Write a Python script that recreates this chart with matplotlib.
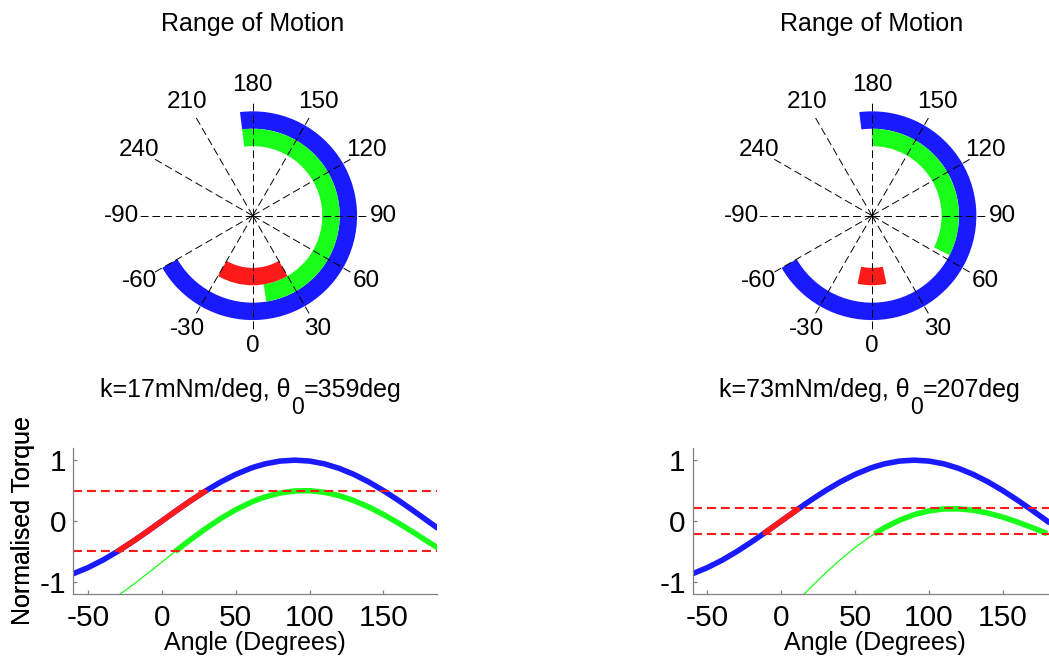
import numpy as np
import matplotlib
matplotlib.use("Agg")
import matplotlib.pyplot as plt

plt.rcParams["font.family"] = ["Liberation Sans", "DejaVu Sans"]
plt.rcParams["axes.unicode_minus"] = False

# Joint angle samples (degrees)
angles = [-60, -50, -40, -30, -20, -12, -10, 0, 9, 10, 12, 20, 30, 40, 50, 60, 63,
          70, 80, 90, 100, 110, 120, 130, 140, 150, 160, 170, 180, 187]

# Normalised gravity torque over the joint angle
gravity_torque = [-0.866, -0.766, -0.643, -0.500, -0.342, -0.208, -0.174, 0.000,
                  0.156, 0.174, 0.208, 0.342, 0.500, 0.643, 0.766, 0.866, 0.891,
                  0.940, 0.985, 1.000, 0.985, 0.940, 0.866, 0.766, 0.643, 0.500,
                  0.342, 0.174, 0.000, -0.122]

# Net torque with the spring, k=17mNm/deg, theta0=359deg
net_torque_1 = [-1.654, -1.535, -1.393, -1.231, -1.055, -0.905, -0.868, -0.675,
                -0.502, -0.482, -0.444, -0.295, -0.119, 0.043, 0.185, 0.304, 0.335,
                0.397, 0.460, 0.494, 0.498, 0.472, 0.417, 0.335, 0.231, 0.107,
                -0.032, -0.181, -0.337, -0.445]

# Net torque with the spring, k=73mNm/deg, theta0=207deg
net_torque_2 = [-2.909, -2.732, -2.533, -2.313, -2.079, -1.883, -1.834, -1.584,
                -1.359, -1.333, -1.284, -1.089, -0.854, -0.635, -0.435, -0.259, -0.211,
                -0.108, 0.013, 0.105, 0.166, 0.198, 0.200, 0.177, 0.130, 0.064,
                -0.018, -0.109, -0.207, -0.275]

# Motor torque limit (normalised) for each design
torque_limits = [0.5, 0.208]

# Angle ranges (degrees)
motion_range = (-60, 187)
spring_ranges = [(9, 187), (63, 180)]
motor_only_ranges = [(-30, 30), (-12, 12)]

panel_titles = [("k=17mNm/deg, θ", "0", "=359deg"),
                ("k=73mNm/deg, θ", "0", "=207deg")]

spoke_angles = [0, 30, 60, 90, 120, 150, 180, 210, 240, 270, 300, 330]
spoke_labels = ["0", "30", "60", "90", "120", "150", "180", "210", "240",
                "-90", "-60", "-30"]
x_ticks = [-50, 0, 50, 100, 150]
y_ticks = [-1, 0, 1]

BLUE = "#1a1aff"
GREEN = "#1aff1a"
RED = "#ff1a1a"
GREY = "#808080"

W, H = 1049, 661
fig = plt.figure(figsize=(W / 100, H / 100), dpi=100)
renderer = fig.canvas.get_renderer()


def polar_panel(cx, cy, spring_span, motor_span):
    rad = 114.8
    ax = fig.add_axes([(cx - rad) / W, (H - cy - rad) / H, 2 * rad / W, 2 * rad / H],
                      projection="polar")
    ax.set_theta_zero_location("S")
    ax.set_theta_direction(1)
    ax.set_ylim(0, 6.6)
    ax.set_yticks([])
    ax.set_thetagrids(spoke_angles, spoke_labels, fontsize=17.5)
    ax.grid(True, axis="x", color="k", lw=0.7, linestyle=(0, (8, 4)))
    ax.set_axisbelow(False)
    ax.tick_params(axis="x", pad=4.5, length=0)
    ax.spines["polar"].set_visible(False)
    ax.patch.set_visible(False)
    for (lo, hi), r0, col in [(motion_range, 5, BLUE), (spring_span, 4, GREEN),
                              (motor_span, 3, RED)]:
        ax.bar(np.deg2rad(lo), 1, width=np.deg2rad(hi - lo), bottom=r0,
               align="edge", color=col, lw=0, zorder=1)
    fig.text(cx / W, 1 - 30.7 / H, "Range of Motion", ha="center",
             va="baseline", fontsize=18)
    return ax


def in_span(span, values):
    a = np.asarray(angles, dtype=float)
    v = np.asarray(values, dtype=float)
    m = (a >= span[0]) & (a <= span[1])
    return a[m], v[m]


def torque_panel(left, net, limit, spring_span, motor_span):
    ax = fig.add_axes([left / W, 67 / H, 364 / W, 146 / H])
    ax.plot(angles, gravity_torque, color=BLUE, lw=4, solid_capstyle="butt")
    ax.plot(*in_span(motor_span, gravity_torque), color=RED, lw=4,
            solid_capstyle="butt")
    ax.plot(angles, net, color=GREEN, lw=0.9)
    ax.plot(*in_span(spring_span, net), color=GREEN, lw=4, solid_capstyle="butt")
    for lvl in (limit, -limit):
        ax.axhline(lvl, color=RED, lw=1.5, linestyle=(0, (4.3, 2.4)))
    ax.set_xlim(-60, 186.5)
    ax.set_ylim(-1.2, 1.2)
    ax.set_xticks(x_ticks)
    ax.set_yticks(y_ticks)
    for side in ("top", "right"):
        ax.spines[side].set_visible(False)
    for side in ("left", "bottom"):
        ax.spines[side].set_color(GREY)
        ax.spines[side].set_linewidth(0.9)
    ax.tick_params(direction="in", length=3, width=0.9, color=GREY,
                   labelsize=21.5, labelcolor="k")
    ax.tick_params(axis="x", pad=7)
    ax.tick_params(axis="y", pad=5)
    ax.set_xlabel("Angle (Degrees)", fontsize=18, va="baseline")
    ax.xaxis.set_label_coords(0.5, (594 - 650) / 146)
    ax.set_ylabel("Normalised Torque", fontsize=18, va="center")
    ax.yaxis.set_label_coords((23 - left) / 364, 0.5)
    return ax


def subscript_title(cx, base_y, pre, sub, post, size=18):
    y = 1 - base_y / H
    t1 = fig.text(0, y, pre, fontsize=size, va="baseline")
    t2 = fig.text(0, y - 17 / H, sub, fontsize=size * 0.92, va="baseline")
    t3 = fig.text(0, y, post, fontsize=size, va="baseline")
    w = [t.get_window_extent(renderer).width for t in (t1, t2, t3)]
    x0 = cx - sum(w) / 2
    t1.set_x(x0 / W)
    t2.set_x((x0 + w[0]) / W)
    t3.set_x((x0 + w[0] + w[1]) / W)


centres = [(252.7, 215.7), (872.0, 215.7)]
lefts = [73.3, 692.7]
nets = [net_torque_1, net_torque_2]

for i in range(2):
    polar_panel(centres[i][0], centres[i][1], spring_ranges[i], motor_only_ranges[i])
    torque_panel(lefts[i], nets[i], torque_limits[i], spring_ranges[i],
                 motor_only_ranges[i])
    subscript_title(centres[i][0] - 2, 397, *panel_titles[i])

fig.savefig("out.png", dpi=100)
